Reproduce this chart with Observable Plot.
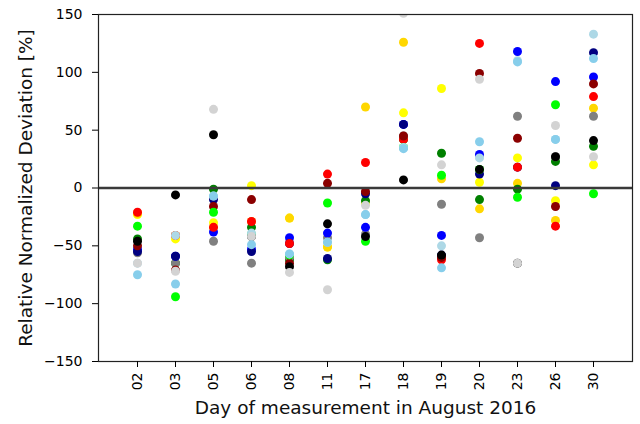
<!DOCTYPE html>
<html>
<head>
<meta charset="utf-8">
<script src="https://cdn.jsdelivr.net/npm/d3@7"></script>
<script src="https://cdn.jsdelivr.net/npm/@observablehq/plot@0.6"></script>
<style>
  html, body { margin: 0; padding: 0; background: #fff; }
</style>
</head>
<body>
<div id="chart"></div>
<script>
// Days (categories)
const days = ["02", "03", "05", "06", "08", "11", "17", "18", "19", "20", "23", "26", "30"];
const yTicks = [-150, -100, -50, 0, 50, 100, 150];

// Series values, one per day (drawing order: first is drawn underneath)
const yellow    = [-23, -44, -30,   2, -26, -51, -13,  65,  86,   5,  26, -11,  20];
const gold      = [-22, -41, -34, -29, -26, -51,  70, 126,   8, -18,   4, -28,  69];
const green     = [-44, -65,  -1, -34, -62, -62, -11,  42,  30, -10,  -1,  23,  36];
const gray      = [-56, -65, -46, -65, -60, -43, -40,  45, -14, -43,  62,  27,  62];
const blue      = [-53, -59, -38, -53, -43, -39, -34,  55, -41,  29, 118,  92,  96];
const navy      = [-55, -59, -10, -55, -48, -61,  -5,  55, -58,  12,  18,   2, 117];
const red       = [-21, -41, -34, -29, -48,  12,  22,  42, -62, 125,  18, -33,  79];
const darkred   = [-50, -71, -16, -10, -65,   4,  -3,  45, -60,  99,  43, -16,  90];
const lime      = [-33, -94, -21, -40, -58, -13, -46,  35,  11,  16,  -8,  72,  -5];
const black     = [-46,  -6,  46, -42, -68, -31, -42,   7, -58,  16, -65,  27,  41];
const lightblue = [-65, -41,  -7, -39, -57, -47, -23,  35, -50,  26, 110,  42, 133];
const lightgray = [-65, -72,  68, -42, -73, -88, -15, 151,  20,  94, -65,  54,  27];
const skyblue   = [-75, -83,  -7, -49, -57, -47, -23,  34, -69,  40, 109,  42, 112];

const seriesNames  = ["yellow", "gold", "green", "gray", "blue", "navy", "red", "darkred", "lime", "black", "lightblue", "lightgray", "skyblue"];
const seriesValues = [yellow, gold, green, gray, blue, navy, red, darkred, lime, black, lightblue, lightgray, skyblue];
const seriesColors = ["#FFFF00", "#FFD700", "#008000", "#808080", "#0000FF", "#000080", "#FF0000", "#8B0000", "#00FF00", "#000000", "#ADD8E6", "#D3D3D3", "#87CEEB"];

const data = seriesValues.flatMap((vals, i) =>
  vals.map((v, j) => ({series: seriesNames[i], color: seriesColors[i], day: days[j], value: v}))
);

const chart = Plot.plot({
  width: 640,
  height: 424,
  marginLeft: 98,
  marginRight: 8,
  marginTop: 14,
  marginBottom: 63,
  style: {fontFamily: "DejaVu Sans", fontSize: "14px", color: "#000", background: "#fff"},
  x: {type: "point", domain: days, padding: 1, label: null},
  y: {domain: [-150, 150], label: null},
  marks: [
    Plot.dot(data, {x: "day", y: "value", fill: "color", r: 4.5, clip: true}),
    Plot.ruleY([0], {stroke: "#3a3a3a", strokeWidth: 2.5}),
    Plot.frame({stroke: "#222", strokeWidth: 1.2}),
    Plot.axisX({ticks: days, tickSize: 6, tickPadding: 5, tickRotate: -90, label: null, stroke: "#000"}),
    Plot.axisY({ticks: yTicks, tickSize: 6, tickPadding: 10, label: null, stroke: "#000",
      tickFormat: d => d < 0 ? "\u2212" + Math.abs(d) : String(d)}),
    Plot.text(["Relative Normalized Deviation [%]"], {frameAnchor: "left", rotate: -90, dx: -72, fontSize: 18.5, textAnchor: "middle", lineAnchor: "middle", fill: "#111"}),
    Plot.text(["Day of measurement in August 2016"], {frameAnchor: "bottom", dy: 39, fontSize: 18.5, textAnchor: "middle", lineAnchor: "top", fill: "#111"})
  ]
});

document.getElementById("chart").appendChild(chart);
</script>
</body>
</html>
